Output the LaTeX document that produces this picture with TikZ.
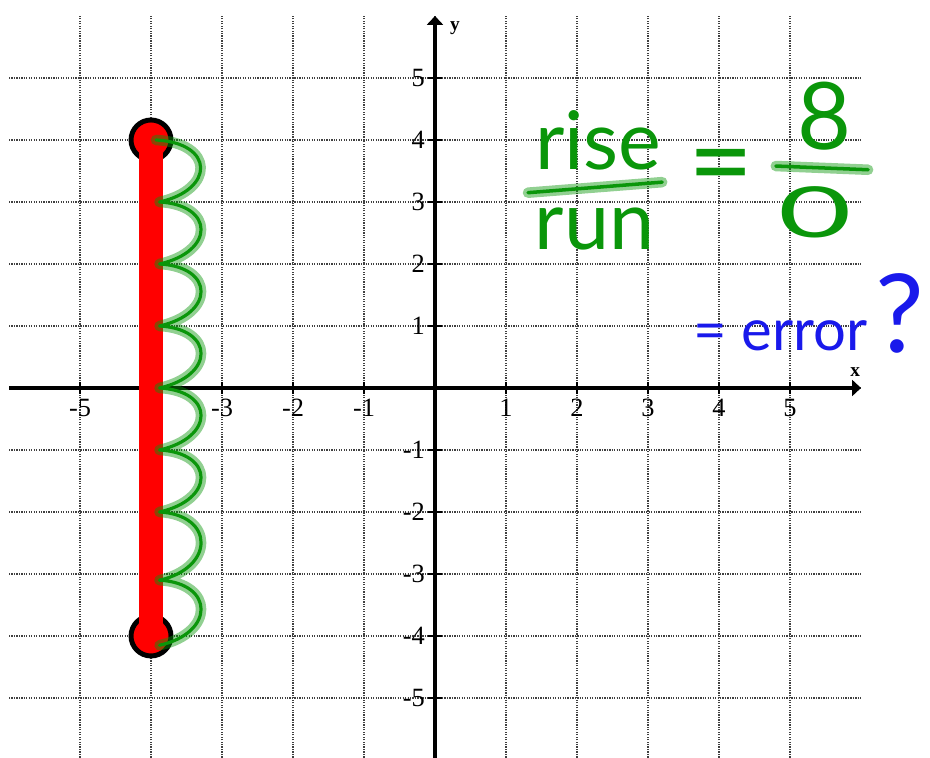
\documentclass[tikz,border=0pt]{standalone}
\usepackage{fontspec}
\usepackage{graphicx}
\setmainfont{Liberation Serif}
\newfontfamily\handfont{Lato}
\usetikzlibrary{arrows.meta}

\definecolor{handgreen}{RGB}{10,150,10}
\definecolor{handblue}{RGB}{25,25,235}

\begin{document}
\begin{tikzpicture}[
    x=1.42cm,
    y=1.24cm,
    font=\fontsize{15}{15}\selectfont,
    gridline/.style={
        draw=black!75,
        line width=0.7pt,
        dash pattern=on 0.7pt off 0.7pt
    },
    axisline/.style={
        line width=1.8pt,
        -{Triangle[length=5pt,width=9pt]}
    },
    tickmark/.style={line width=1pt},
    xlab/.style={anchor=north, inner sep=0pt},
    ylab/.style={anchor=east, inner sep=0pt},
    axlab/.style={font=\bfseries\fontsize{11}{11}\selectfont, inner sep=0pt},
    endpt/.style={
        circle,
        draw=black,
        fill=red,
        line width=2.8pt,
        minimum size=0.8cm,
        inner sep=0pt
    },
    segline/.style={draw=red, line width=14pt},
    wave/.style={
        draw=handgreen,
        line width=1.8pt,
        line cap=round,
        line join=round,
        preaction={draw=handgreen, opacity=0.45, line width=6pt,
                   line cap=round, line join=round}
    },
    fracbar/.style={
        draw=handgreen,
        line width=2pt,
        line cap=round,
        preaction={draw=handgreen, opacity=0.45, line width=6pt, line cap=round}
    },
    handtext/.style={
        text=handgreen,
        font=\handfont\fontsize{46}{46}\selectfont,
        inner sep=0pt
    },
    bluetext/.style={
        text=handblue,
        font=\handfont\fontsize{33}{33}\selectfont,
        inner sep=0pt
    }
]

\useasboundingbox (-6.127,-5.968) rectangle (6.972,6.258);

% Grid
\foreach \k in {-5,...,5} {
    \draw[gridline] (\k,-6) -- (\k,6);
    \draw[gridline] (-6,\k) -- (6,\k);
}

% Axes
\draw[axisline] (-6,0) -- (6,0);
\draw[axisline] (0,-6) -- (0,6);
\node[axlab] (xname) at (5.92,0.26) {x};
\node[axlab] (yname) at (0.28,5.81) {y};

\foreach \k in {-5,...,-1,1,2,...,5} {
    \draw[tickmark] (\k,-0.1) -- (\k,0.1);
    \draw[tickmark] (-0.1,\k) -- (0.1,\k);
}

% Tick labels
\foreach \x in {-5,-3,-2,-1,1,2,3,4,5}
    \node[xlab] (xl\x) at (\x,-0.18) {\x};
\foreach \y in {-5,...,-1,1,2,...,5}
    \node[ylab] (yl\y) at (-0.14,\y) {\y};

% Vertical segment x = -4
\node[endpt] (top) at (-4,4) {};
\node[endpt] (bot) at (-4,-4) {};
\draw[segline] (top.center) -- (bot.center);

% Rise loops
\draw[wave] (-3.93,4)
    \foreach \a/\b in {4/3, 3/2, 2/1, 1/0, 0/-1, -1/-2, -2/-3.1, -3.1/-4.15} {
        .. controls (-3.1,\a-0.05) and (-3.1,\b+0.2) .. (-3.88,\b)
    };

% rise / run
\node[handtext, anchor=base] (rise) at (2.30,3.52) {rise};
\node[handtext, anchor=base] (run) at (2.25,2.23) {run};
\coordinate (fracL) at (1.31,3.15);
\coordinate (fracR) at (3.20,3.32);
\draw[fracbar] (fracL) -- (fracR);

\node[handtext, font=\handfont\fontsize{64}{64}\selectfont] (eq) at (4.03,3.44) {=};

% 8 / 0
\node[handtext, font=\handfont\fontsize{53}{53}\selectfont] (eight) at (5.49,4.38) {8};
\node[handtext, font=\handfont\fontsize{40}{40}\selectfont] (zero) at (5.35,2.84) {\scalebox{1.8}[1]{0}};
\coordinate (numL) at (4.80,3.58);
\coordinate (numR) at (6.10,3.52);
\draw[fracbar] (numL) -- (numR);

% = error?
\node[bluetext, anchor=base west] (err) at (3.63,0.61) {= error};
\node[bluetext, anchor=base, font=\handfont\fontsize{62}{62}\selectfont] (qmark) at (6.55,0.58) {?};

\end{tikzpicture}
\end{document}
